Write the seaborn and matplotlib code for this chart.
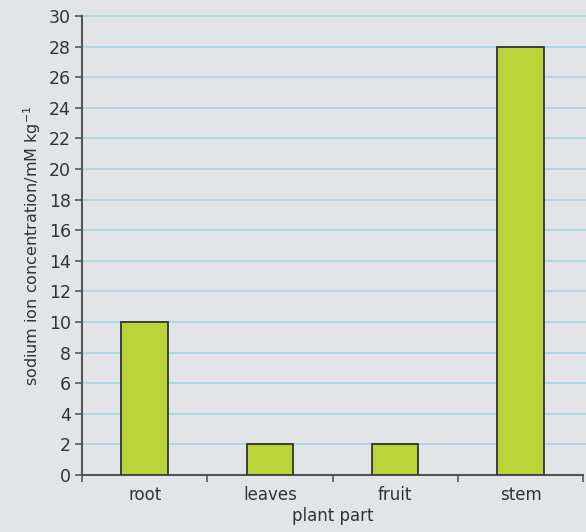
import matplotlib
matplotlib.use("Agg")
import matplotlib.pyplot as plt
import seaborn as sns
import pandas as pd

parts = ["root", "leaves", "fruit", "stem"]
sodium = [10, 2, 2, 28]
yticks = list(range(0, 31, 2))

sns.set_style("white")
plt.rcParams['font.family'] = ['DejaVu Sans']

bg = "#e2e5e8"
fig = plt.figure(figsize=(5.86, 5.32), dpi=100, facecolor=bg)
ax = fig.add_axes([0.140, 0.107, 0.855, 0.863])
ax.set_facecolor(bg)

df = pd.DataFrame({"part": parts, "sodium": sodium})
sns.barplot(data=df, x="part", y="sodium", color="#bad43a", saturation=1,
            width=0.37, edgecolor="#333333", linewidth=1.3, ax=ax, zorder=3)

ax.set_ylim(0, 30)
ax.set_xlim(-0.5, 3.5)
ax.set_yticks(yticks)
ax.set_yticklabels([str(v) for v in yticks], fontsize=12.5, color="#333333")
ax.set_xticks(range(len(parts)))
ax.set_xticklabels(parts, fontsize=12, color="#333333")
ax.tick_params(axis="x", which="major", length=0, pad=8, bottom=True)
ax.set_xticks([-0.5, 0.5, 1.5, 2.5, 3.5], minor=True)
ax.tick_params(axis="x", which="minor", length=5, width=1.2, color="#555555",
               bottom=True)
ax.tick_params(axis="y", which="major", length=5, width=1.2, color="#555555",
               pad=3, left=True)

for y in yticks[1:]:
    ax.axhline(y, color="#a6d6e0", linewidth=1.2, zorder=1, clip_on=False,
               xmax=1.01)

for s in ["top", "right"]:
    ax.spines[s].set_visible(False)
for s in ["left", "bottom"]:
    ax.spines[s].set_color("#555555")
    ax.spines[s].set_linewidth(1.5)

ax.set_xlabel("plant part", fontsize=12, color="#333333", labelpad=2)
ax.set_ylabel("sodium ion concentration/mM kg$^{-1}$", fontsize=11.5,
              color="#333333", labelpad=4)

fig.savefig("out.png", dpi=100, facecolor=bg)
